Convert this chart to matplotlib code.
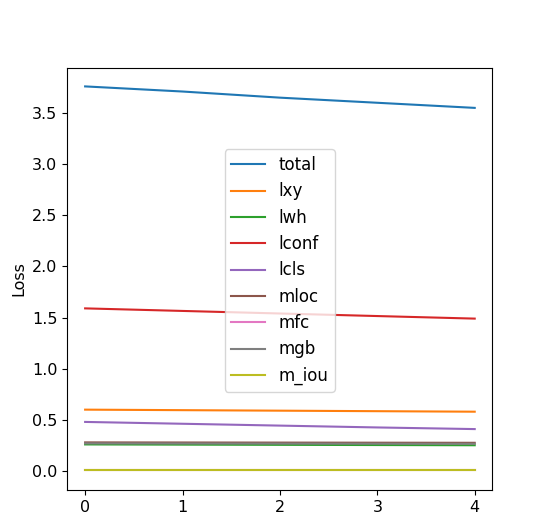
import matplotlib
matplotlib.use("Agg")
import matplotlib.pyplot as plt

epochs = [0, 1, 2, 3, 4]
total = [3.76, 3.71, 3.65, 3.60, 3.55]
lxy = [0.60, 0.595, 0.59, 0.585, 0.58]
lwh = [0.26, 0.258, 0.256, 0.254, 0.252]
lconf = [1.59, 1.565, 1.54, 1.515, 1.49]
lcls = [0.48, 0.462, 0.444, 0.426, 0.41]
mloc = [0.28, 0.279, 0.278, 0.277, 0.276]
mfc = [0.01, 0.01, 0.01, 0.01, 0.01]
mgb = [0.27, 0.269, 0.268, 0.267, 0.266]
m_iou = [0.01, 0.01, 0.01, 0.01, 0.01]

series = [("total", total), ("lxy", lxy), ("lwh", lwh), ("lconf", lconf), ("lcls", lcls),
          ("mloc", mloc), ("mfc", mfc), ("mgb", mgb), ("m_iou", m_iou)]
colors = ["#1f77b4", "#ff7f0e", "#2ca02c", "#d62728", "#9467bd", "#8c564b", "#e377c2", "#7f7f7f", "#bcbd22"]

fig = plt.figure(figsize=(5.5, 5.23), dpi=100)
ax = fig.add_axes([0.122, 0.063, 0.773, 0.807])
for (name, vals), c in zip(series, colors):
    ax.plot(epochs, vals, label=name, color=c)
ax.set_xlim(-0.185, 4.18)
ax.set_ylim(-0.186, 3.94)
ax.set_xticks(epochs)
ax.tick_params(labelsize=11.5)
ax.set_ylabel("Loss", fontsize=11.5)
ax.legend(loc="center", bbox_to_anchor=(0.5, 0.52), fontsize=12)
fig.savefig("out.png")
